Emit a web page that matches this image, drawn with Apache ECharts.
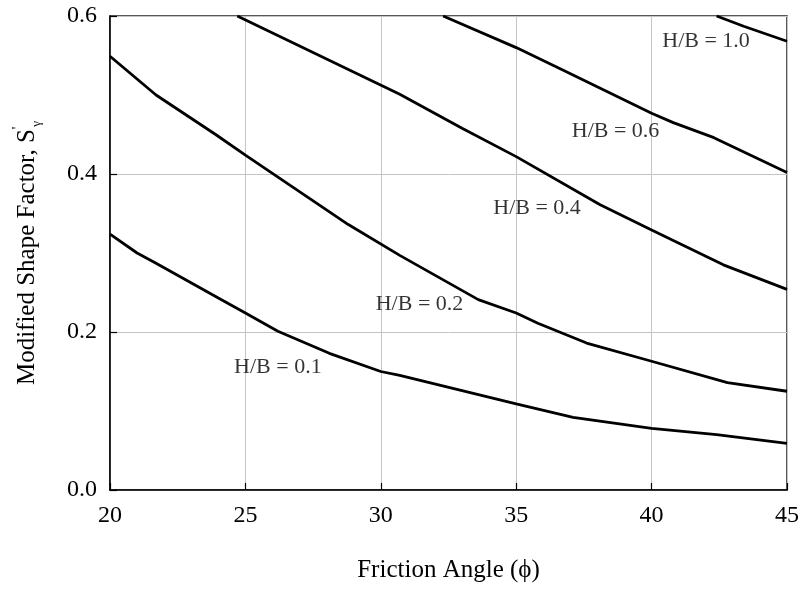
<!DOCTYPE html>
<html>
<head>
<meta charset="utf-8">
<script src="https://cdn.jsdelivr.net/npm/echarts@6/dist/echarts.min.js"></script>
<style>
html,body{margin:0;padding:0;background:#fff;}
#chart{width:802px;height:590px;}
</style>
</head>
<body>
<div id="chart"></div>
<script>
// Data: [friction angle, modified shape factor]
var hb01 = [[20,0.324],[21.0,0.300],[21.7,0.287],[24.0,0.243],[25,0.224],[26.2,0.201],[28.1,0.173],[30,0.150],[30.7,0.145],[35,0.109],[37.1,0.092],[40,0.078],[42.4,0.070],[45,0.059]];
var hb02 = [[20,0.549],[21.7,0.500],[23.9,0.450],[25,0.424],[26.9,0.380],[28.8,0.336],[30.7,0.297],[33.6,0.241],[35,0.224],[35.8,0.211],[37.6,0.186],[40,0.163],[42.8,0.136],[45,0.125]];
var hb04 = [[24.7,0.600],[30.7,0.501],[33.0,0.458],[35,0.422],[38.1,0.361],[40,0.329],[42.65,0.285],[45,0.254]];
var hb06 = [[32.3,0.600],[35,0.560],[36.7,0.532],[40,0.477],[40.8,0.465],[42.3,0.446],[45,0.402]];
var hb10 = [[42.4,0.600],[43.4,0.587],[45,0.568]];
var curveNames = ['H/B = 0.1','H/B = 0.2','H/B = 0.4','H/B = 0.6','H/B = 1.0'];
var labelPos = [[26.2,0.156],[31.43,0.235],[35.77,0.357],[38.67,0.454],[42.01,0.568]];
var xTicks = [20,25,30,35,40,45];
var yTicks = [0.0,0.2,0.4,0.6];

var FONT = '"Liberation Serif","Times New Roman",serif';
var curves = [hb01, hb02, hb04, hb06, hb10];

var series = curves.map(function (d, i) {
  return {
    name: curveNames[i],
    type: 'line',
    data: d,
    showSymbol: false,
    symbol: 'none',
    lineStyle: {color: '#000', width: 2.8},
    silent: true,
    z: 3
  };
});
series.push({
  type: 'scatter',
  symbolSize: 0,
  silent: true,
  data: labelPos.map(function (p, i) { return {value: p, name: curveNames[i]}; }),
  label: {
    show: true,
    position: 'inside',
    formatter: function (p) { return p.name; },
    color: '#000',
    fontFamily: FONT,
    fontSize: 22
  },
  z: 4
});

var chart = echarts.init(document.getElementById('chart'), null, {renderer: 'canvas'});
chart.setOption({
  animation: false,
  backgroundColor: '#fff',
  grid: {left: 110, right: 15, top: 16, bottom: 100, show: true, borderColor: '#222', borderWidth: 1.5, backgroundColor: 'transparent'},
  xAxis: {
    type: 'value', min: 20, max: 45, interval: 5,
    name: 'Friction Angle (\u03d5)',
    nameLocation: 'middle', nameGap: 68,
    nameTextStyle: {fontFamily: FONT, fontSize: 25, color: '#000'},
    axisLine: {show: true, lineStyle: {color: '#000', width: 1.5}},
    axisTick: {show: true, inside: true, length: 7, lineStyle: {color: '#000', width: 1.2}},
    axisLabel: {fontFamily: FONT, fontSize: 24, color: '#000', margin: 14,
      formatter: function (v) { return xTicks.indexOf(v) >= 0 ? String(v) : ''; }},
    splitLine: {show: true, lineStyle: {color: '#c4c4c4', width: 1}}
  },
  yAxis: {
    type: 'value', min: 0, max: 0.6, interval: 0.2,
    name: '{a|Modified Shape Factor, S}{sup|\'}{sub|\u03b3}',
    nameLocation: 'middle', nameGap: 67, nameRotate: 90,
    nameTextStyle: {
      fontFamily: FONT, fontSize: 25, color: '#000',
      rich: {
        a: {fontFamily: FONT, fontSize: 25, color: '#000', lineHeight: 32},
        sup: {fontFamily: FONT, fontSize: 14, color: '#000', verticalAlign: 'top', lineHeight: 32},
        sub: {fontFamily: FONT, fontSize: 13, color: '#000', verticalAlign: 'bottom', lineHeight: 32}
      }
    },
    axisLine: {show: true, lineStyle: {color: '#000', width: 1.5}},
    axisTick: {show: true, inside: true, length: 7, lineStyle: {color: '#000', width: 1.2}},
    axisLabel: {fontFamily: FONT, fontSize: 24, color: '#000', margin: 13,
      formatter: function (v) {
        for (var i = 0; i < yTicks.length; i++) { if (Math.abs(yTicks[i] - v) < 1e-9) return yTicks[i].toFixed(1); }
        return '';
      }},
    splitLine: {show: true, lineStyle: {color: '#c4c4c4', width: 1}}
  },
  series: series
});
</script>
</body>
</html>
